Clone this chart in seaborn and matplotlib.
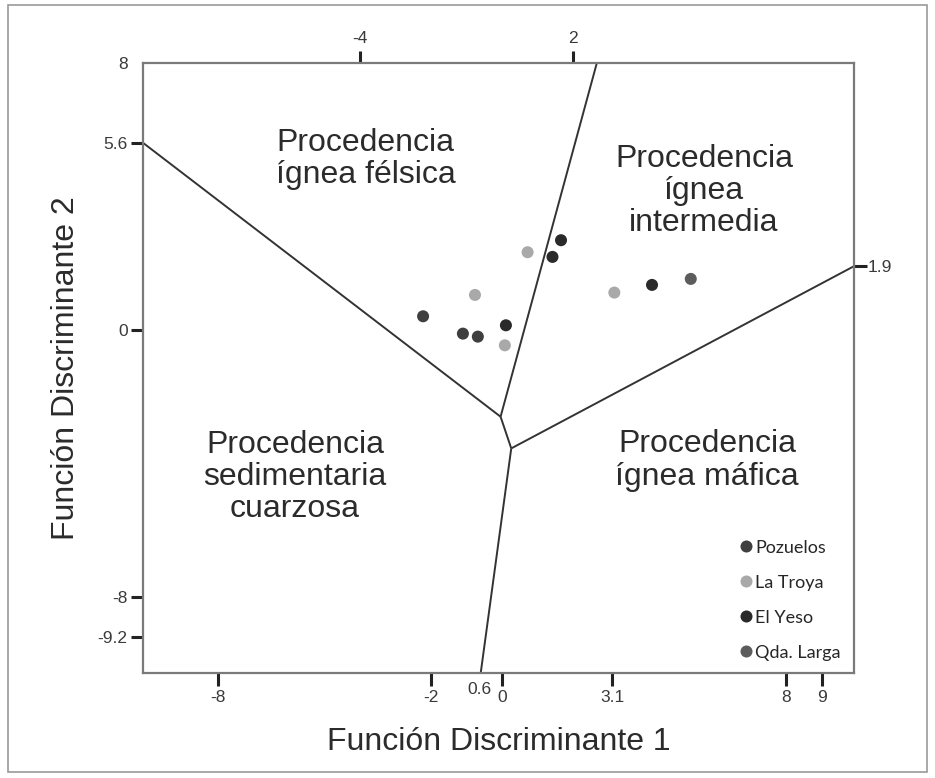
import matplotlib
matplotlib.use("Agg")
import matplotlib.pyplot as plt
import pandas as pd
import seaborn as sns
from matplotlib.patches import Rectangle

# Sample groups and their marker shades
sites = ["Pozuelos", "La Troya", "El Yeso", "Qda. Larga"]
site_colors = ["#3f3f3f", "#a9a9a9", "#2a2a2a", "#5c5c5c"]

# Discriminant function scores for each sample
sample_site = ["La Troya", "El Yeso", "El Yeso", "La Troya", "Pozuelos", "Pozuelos",
               "Pozuelos", "El Yeso", "La Troya", "La Troya", "El Yeso", "Qda. Larga"]
df1_scores = [0.72, 1.66, 1.42, -0.76, -2.22, -1.10, -0.68, 0.11, 0.08, 3.16, 4.22, 5.31]
df2_scores = [2.32, 2.68, 2.18, 1.04, 0.40, -0.12, -0.21, 0.13, -0.47, 1.11, 1.34, 1.52]

# Field boundaries (Roser & Korsch style provenance diagram)
bound_felsic_sed_x = [-10.1, -0.04]
bound_felsic_sed_y = [5.6, -2.61]
bound_felsic_int_x = [2.67, -0.04]
bound_felsic_int_y = [8.0, -2.61]
bound_center_x = [-0.04, 0.26]
bound_center_y = [-2.61, -3.56]
bound_int_maf_x = [0.26, 9.9]
bound_int_maf_y = [-3.56, 1.9]
bound_sed_maf_x = [0.26, -0.6]
bound_sed_maf_y = [-3.56, -10.3]

# Axis ticks
x_ticks = [-8, -2, 0, 3.1, 8, 9]
x_tick_labels = ["-8", "-2", "0", "3.1", "8", "9"]
y_ticks = [8, 5.6, 0, -8, -9.2]
y_tick_labels = ["8", "5.6", "0", "-8", "-9.2"]
top_ticks = [-4, 2]
top_tick_labels = ["-4", "2"]
right_ticks = [1.9]
right_tick_labels = ["1.9"]
x_limits = (-10.1, 9.9)
y_limits = (-10.3, 8.0)

field_names = ["Procedencia\nígnea félsica", "Procedencia\nígnea\nintermedia",
               "Procedencia\nsedimentaria\ncuarzosa", "Procedencia\nígnea máfica"]

sns.set_theme(style="white")
plt.rcParams["font.family"] = ["Liberation Sans", "DejaVu Sans"]

fig = plt.figure(figsize=(9.35, 7.78), dpi=100)
ax = fig.add_axes([0.1529, 0.1346, 0.7604, 0.7848])

data = pd.DataFrame({"DF1": df1_scores, "DF2": df2_scores, "site": sample_site})

line_kw = dict(color="#333333", lw=1.4, solid_capstyle="butt", zorder=2)
for bx, by in [(bound_felsic_sed_x, bound_felsic_sed_y),
               (bound_felsic_int_x, bound_felsic_int_y),
               (bound_center_x, bound_center_y),
               (bound_int_maf_x, bound_int_maf_y),
               (bound_sed_maf_x, bound_sed_maf_y)]:
    ax.plot(bx, by, **line_kw)

sns.scatterplot(data=data, x="DF1", y="DF2", hue="site", hue_order=sites,
                palette=site_colors, s=75, linewidth=0, ax=ax, zorder=3)

ax.set_xlim(*x_limits)
ax.set_ylim(*y_limits)

# Field labels
label_kw = dict(ha="center", va="center", fontsize=23, color="#2b2b2b",
                linespacing=1.1)
ax.text(-3.84, 5.11, field_names[0], **label_kw)
ax.text(5.68, 4.16, field_names[1], **label_kw)
ax.text(-5.82, -4.42, field_names[2], **label_kw)
ax.text(5.77, -3.92, field_names[3], **label_kw)

# Spines
for sp in ax.spines.values():
    sp.set_color("#7a7a7a")
    sp.set_linewidth(1.6)

tick_kw = dict(direction="out", length=9, width=2.2, color="#222222",
               labelsize=12.5, labelcolor="#3a3a3a", pad=3)
ax.set_xticks(x_ticks)
ax.set_xticklabels(x_tick_labels)
ax.set_yticks(y_ticks)
ax.set_yticklabels(y_tick_labels)
ax.tick_params(axis="both", bottom=True, left=True, top=False, right=False, **tick_kw)
ax.tick_params(axis="y", pad=2)
# the corner value carries no tick mark
ax.yaxis.get_major_ticks()[0].tick1line.set_visible(False)

top = ax.secondary_xaxis("top")
top.set_xticks(top_ticks)
top.set_xticklabels(top_tick_labels)
top.tick_params(**tick_kw)

right = ax.secondary_yaxis("right")
right.set_yticks(right_ticks)
right.set_yticklabels(right_tick_labels)
right.tick_params(**tick_kw)
right.tick_params(pad=1)

ax.annotate("0.6", xy=(bound_sed_maf_x[1], y_limits[0]), xytext=(-1, -12),
            textcoords="offset points", ha="center", va="center",
            fontsize=12.5, color="#3a3a3a", annotation_clip=False)

ax.set_xlabel("Función Discriminante 1", fontsize=23, color="#2b2b2b", labelpad=16)
ax.set_ylabel("Función Discriminante 2", fontsize=23, color="#2b2b2b", labelpad=12)

# Legend
handles, labels = ax.get_legend_handles_labels()
ax.legend(handles, labels, loc="lower left", bbox_to_anchor=(0.815, 0.0),
          frameon=False, prop={"family": "Lato", "size": 13},
          handletextpad=-0.1, labelspacing=1.05, markerscale=1.0,
          borderaxespad=0.3, handlelength=1.2)

# Outer frame around the figure
fig.patches.append(Rectangle((0.009, 0.008), 0.982, 0.986, transform=fig.transFigure,
                             fill=False, edgecolor="#9a9a9a", lw=1.2))

fig.savefig("out.png", dpi=100)
